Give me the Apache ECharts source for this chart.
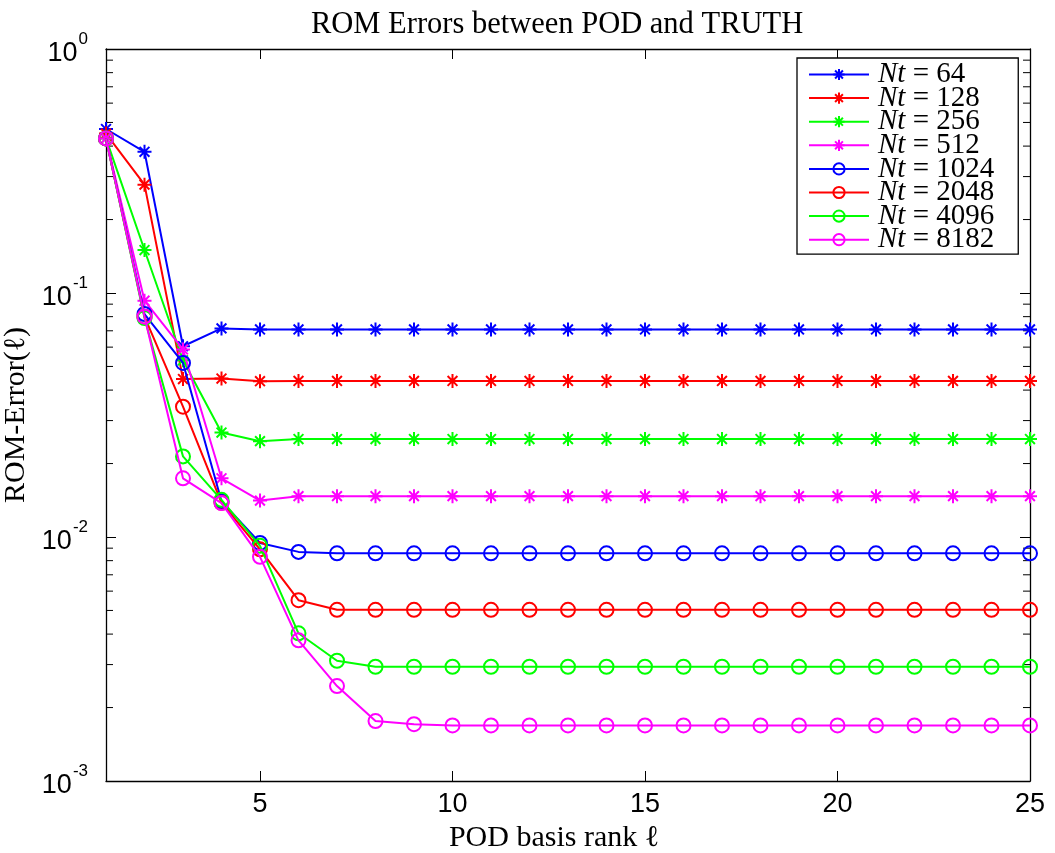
<!DOCTYPE html>
<html>
<head>
<meta charset="utf-8">
<script src="https://cdn.jsdelivr.net/npm/echarts@6/dist/echarts.min.js"></script>
<style>
	html, body { margin: 0; padding: 0; background: #fff; }
	#chart { width: 1055px; height: 853px; }
</style>
</head>
<body>
<div id="chart"></div>
<script>
// POD basis rank l = 1..25
var ranks = [1, 2, 3, 4, 5, 6, 7, 8, 9, 10, 11, 12, 13, 14, 15, 16, 17, 18, 19, 20, 21, 22, 23, 24, 25];

// ROM-Error(l), one array per Nt
var nt64 = [0.47, 0.379, 0.0605, 0.0716, 0.0709, 0.0709, 0.0709, 0.0709, 0.0709, 0.0709, 0.0709, 0.0709, 0.0709, 0.0709, 0.0709, 0.0709, 0.0709, 0.0709, 0.0709, 0.0709, 0.0709, 0.0709, 0.0709, 0.0709, 0.0709];
var nt128 = [0.45, 0.278, 0.0444, 0.0446, 0.0435, 0.0436, 0.0436, 0.0436, 0.0436, 0.0436, 0.0436, 0.0436, 0.0436, 0.0436, 0.0436, 0.0436, 0.0436, 0.0436, 0.0436, 0.0436, 0.0436, 0.0436, 0.0436, 0.0436, 0.0436];
var nt256 = [0.43, 0.150, 0.053, 0.0268, 0.0247, 0.0252, 0.0252, 0.0252, 0.0252, 0.0252, 0.0252, 0.0252, 0.0252, 0.0252, 0.0252, 0.0252, 0.0252, 0.0252, 0.0252, 0.0252, 0.0252, 0.0252, 0.0252, 0.0252, 0.0252];
var nt512 = [0.43, 0.093, 0.0587, 0.0174, 0.0141, 0.0147, 0.0147, 0.0147, 0.0147, 0.0147, 0.0147, 0.0147, 0.0147, 0.0147, 0.0147, 0.0147, 0.0147, 0.0147, 0.0147, 0.0147, 0.0147, 0.0147, 0.0147, 0.0147, 0.0147];
var nt1024 = [0.43, 0.082, 0.0517, 0.0140, 0.00945, 0.00869, 0.00857, 0.00857, 0.00857, 0.00857, 0.00857, 0.00857, 0.00857, 0.00857, 0.00857, 0.00857, 0.00857, 0.00857, 0.00857, 0.00857, 0.00857, 0.00857, 0.00857, 0.00857, 0.00857];
var nt2048 = [0.43, 0.080, 0.0342, 0.0138, 0.0089, 0.00551, 0.00503, 0.00503, 0.00503, 0.00503, 0.00503, 0.00503, 0.00503, 0.00503, 0.00503, 0.00503, 0.00503, 0.00503, 0.00503, 0.00503, 0.00503, 0.00503, 0.00503, 0.00503, 0.00503];
var nt4096 = [0.43, 0.079, 0.0214, 0.0142, 0.0092, 0.00403, 0.00311, 0.00294, 0.00294, 0.00294, 0.00294, 0.00294, 0.00294, 0.00294, 0.00294, 0.00294, 0.00294, 0.00294, 0.00294, 0.00294, 0.00294, 0.00294, 0.00294, 0.00294, 0.00294];
var nt8182 = [0.43, 0.080, 0.0174, 0.01377, 0.00829, 0.00377, 0.00245, 0.00176, 0.00171, 0.00169, 0.00169, 0.00169, 0.00169, 0.00169, 0.00169, 0.00169, 0.00169, 0.00169, 0.00169, 0.00169, 0.00169, 0.00169, 0.00169, 0.00169, 0.00169];

var seriesNames = ['Nt = 64', 'Nt = 128', 'Nt = 256', 'Nt = 512', 'Nt = 1024', 'Nt = 2048', 'Nt = 4096', 'Nt = 8182'];
var seriesData = [nt64, nt128, nt256, nt512, nt1024, nt2048, nt4096, nt8182];
var seriesColors = ['#0000ff', '#ff0000', '#00ff00', '#ff00ff', '#0000ff', '#ff0000', '#00ff00', '#ff00ff'];
var seriesMarks = ['star', 'star', 'star', 'star', 'circle', 'circle', 'circle', 'circle'];

// tick labels / positions
var xTicks = [5, 10, 15, 20, 25];
var yMinorTicks = [0.002, 0.003, 0.004, 0.005, 0.006, 0.007, 0.008, 0.009,
	0.02, 0.03, 0.04, 0.05, 0.06, 0.07, 0.08, 0.09,
	0.2, 0.3, 0.4, 0.5, 0.6, 0.7, 0.8, 0.9];

var starPath = 'path://M10,0L10,20M0,10L20,10M3,3L17,17M3,17L17,3';
var serif = 'Liberation Serif';
var sans = 'Liberation Sans';

var series = [];
for (var i = 0; i < seriesNames.length; i++) {
	var c = seriesColors[i];
	var isStar = seriesMarks[i] == 'star';
	series.push({
		name: seriesNames[i],
		type: 'line',
		data: ranks.map(function(r, k) { return [r, this[k]]; }, seriesData[i]),
		symbol: isStar ? starPath : 'circle',
		symbolSize: isStar ? 14 : 14,
		showAllSymbol: true,
		lineStyle: { color: c, width: 2 },
		itemStyle: {
			color: isStar ? c : 'rgba(0,0,0,0)',
			borderColor: c,
			borderWidth: isStar ? 2 : 2
		},
		emphasis: { disabled: true },
		z: 3 + i
	});
}

// minor log ticks on left and right edges
series.push({
	type: 'custom',
	silent: true,
	data: yMinorTicks.map(function(v) { return [1, v]; }),
	renderItem: function(params, api) {
		var y = api.coord([1, api.value(1)])[1];
		var cs = params.coordSys;
		return {
			type: 'group',
			children: [{
				type: 'line',
				shape: { x1: cs.x, y1: y, x2: cs.x + 7, y2: y },
				style: { stroke: '#000', lineWidth: 1 }
			}, {
				type: 'line',
				shape: { x1: cs.x + cs.width - 7, y1: y, x2: cs.x + cs.width, y2: y },
				style: { stroke: '#000', lineWidth: 1 }
			}]
		};
	},
	z: 1
});

var axisLine = { show: true, onZero: false, lineStyle: { color: '#000', width: 1.3 } };
var tickStyle = { color: '#000', width: 1 };

var chart = echarts.init(document.getElementById('chart'));
chart.setOption({
	animation: false,
	backgroundColor: '#fff',
	title: {
		text: 'ROM Errors between POD and TRUTH',
		left: 306,
		top: 4,
		textStyle: { fontFamily: serif, fontSize: 30.5, fontWeight: 'normal', color: '#000' }
	},
	grid: { left: 106, right: 25, top: 49, bottom: 72, outerBoundsMode: 'none' },
	legend: {
		data: seriesNames,
		orient: 'vertical',
		left: 797,
		top: 58,
		padding: [2, 24, 0, 11],
		itemWidth: 60,
		itemHeight: 14,
		itemGap: -5.4,
		borderColor: '#000',
		borderWidth: 1.3,
		backgroundColor: '#fff',
		formatter: function(name) {
			return '{i|Nt}{n|' + name.slice(2) + '}';
		},
		textStyle: {
			lineHeight: 20,
			padding: [0, 0, 0, 4],
			rich: {
				i: { fontFamily: serif, fontStyle: 'italic', fontSize: 29, lineHeight: 20, color: '#000' },
				n: { fontFamily: serif, fontSize: 29, lineHeight: 20, color: '#000' }
			}
		}
	},
	xAxis: [{
		type: 'value',
		min: 1,
		max: 25,
		name: 'POD basis rank \u2113',
		nameLocation: 'middle',
		nameGap: 42,
		nameTextStyle: { fontFamily: serif, fontSize: 30, color: '#000', padding: [0, 28, 0, 0] },
		axisLine: axisLine,
		axisTick: { inside: true, length: 10, lineStyle: tickStyle, customValues: xTicks },
		axisLabel: { fontFamily: sans, fontSize: 27, color: '#000', margin: 10, customValues: xTicks },
		splitLine: { show: false }
	}, {
		type: 'value',
		position: 'top',
		min: 1,
		max: 25,
		axisLine: axisLine,
		axisTick: { inside: true, length: 10, lineStyle: tickStyle, customValues: xTicks },
		axisLabel: { show: false },
		splitLine: { show: false }
	}],
	yAxis: [{
		type: 'log',
		logBase: 10,
		min: 0.001,
		max: 1,
		name: 'ROM-Error(\u2113)',
		nameLocation: 'middle',
		nameGap: 68,
		nameRotate: 90,
		nameTextStyle: { fontFamily: serif, fontSize: 30, color: '#000' },
		axisLine: axisLine,
		axisTick: { inside: true, length: 10, lineStyle: tickStyle },
		axisLabel: {
			margin: 18,
			formatter: function(v) {
				return '{b|10}{s|' + Math.round(Math.log10(v)) + '}';
			},
			rich: {
				b: { fontFamily: sans, fontSize: 27, color: '#000', verticalAlign: 'bottom', padding: [10, 0, 0, 0] },
				s: { fontFamily: sans, fontSize: 17, color: '#000', verticalAlign: 'top', padding: [0, 0, 12, 1] }
			}
		},
		splitLine: { show: false }
	}, {
		type: 'log',
		logBase: 10,
		min: 0.001,
		max: 1,
		position: 'right',
		axisLine: axisLine,
		axisTick: { inside: true, length: 10, lineStyle: tickStyle },
		axisLabel: { show: false },
		splitLine: { show: false }
	}],
	series: series
});
</script>
</body>
</html>
